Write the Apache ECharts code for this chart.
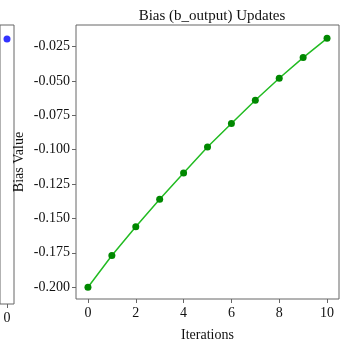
<!DOCTYPE html>
<html>
<head>
<meta charset="utf-8">
<script src="https://cdn.jsdelivr.net/npm/echarts@6/dist/echarts.min.js"></script>
<style>
    html, body {margin: 0; padding: 0; background: #fff;}
    #chart {width: 341px; height: 347px;}
</style>
</head>
<body>
<div id="chart"></div>
<script>
// iterations and bias values
var iterations = [0, 1, 2, 3, 4, 5, 6, 7, 8, 9, 10];
var biasValues = [-0.200, -0.177, -0.156, -0.136, -0.117, -0.098, -0.081, -0.064, -0.048, -0.033, -0.019];
// tick labels
var xTicks = [0, 2, 4, 6, 8, 10];
var yTicks = [-0.200, -0.175, -0.150, -0.125, -0.100, -0.075, -0.050, -0.025];
// left neighbour panel, only its last point is visible
var leftCategories = ['0'];
var leftValues = [0.95];

var axisGray = '#666';
var font = 'Liberation Serif';

var chart = echarts.init(document.getElementById('chart'));

var option = {
    animation: false,
    title: {
        text: 'Bias (b_output) Updates',
        left: 207,
        top: 4,
        textAlign: 'center',
        textStyle: {fontFamily: font, fontSize: 15, fontWeight: 'normal', color: '#111'}
    },
    grid: [
        {left: 76, right: 2, top: 25, bottom: 43, show: true, borderColor: axisGray, borderWidth: 1, backgroundColor: 'transparent'},
        // cut-off panel on the left
        {left: -10, right: 327, top: 25, bottom: 43, show: true, borderColor: axisGray, borderWidth: 1, backgroundColor: 'transparent'}
    ],
    xAxis: [
        {
            gridIndex: 0, type: 'value', min: -0.5, max: 10.5,
            axisLine: {show: false, onZero: false},
            axisTick: {show: true, length: 4, lineStyle: {color: axisGray}, customValues: xTicks},
            axisLabel: {margin: 7, fontFamily: font, fontSize: 14, color: '#111', customValues: xTicks},
            splitLine: {show: false},
            name: 'Iterations', nameLocation: 'middle', nameGap: 29,
            nameTextStyle: {fontFamily: font, fontSize: 14, color: '#111'}
        },
        {
            gridIndex: 1, type: 'category', data: leftCategories,
            axisLine: {show: false, onZero: false},
            axisTick: {show: true, alignWithLabel: true, length: 4, lineStyle: {color: axisGray}},
            axisLabel: {margin: 7, fontFamily: font, fontSize: 14, color: '#111'}
        }
    ],
    yAxis: [
        {
            gridIndex: 0, type: 'value', min: -0.2086, max: -0.0093,
            axisLine: {show: false, onZero: false},
            axisTick: {show: true, length: 4, lineStyle: {color: axisGray}, customValues: yTicks},
            axisLabel: {margin: 6, fontFamily: font, fontSize: 14, color: '#111', customValues: yTicks,
                formatter: function (v) { return v.toFixed(3); }},
            splitLine: {show: false},
            name: 'Bias Value', nameLocation: 'middle', nameGap: 50, nameMoveOverlap: false,
            nameTextStyle: {fontFamily: font, fontSize: 14, color: '#111'}
        },
        {gridIndex: 1, type: 'value', min: 0, max: 1, show: false}
    ],
    series: [
        {
            type: 'line',
            xAxisIndex: 0, yAxisIndex: 0,
            data: iterations.map(function (x, i) { return [x, biasValues[i]]; }),
            lineStyle: {color: '#22bb22', width: 1.5},
            itemStyle: {color: '#008800'},
            symbol: 'circle', symbolSize: 7
        },
        {
            type: 'scatter',
            xAxisIndex: 1, yAxisIndex: 1,
            data: leftValues.map(function (v, i) { return [leftCategories[i], v]; }),
            itemStyle: {color: '#0000ff'},
            symbolSize: 7
        }
    ]
};

chart.setOption(option);
</script>
</body>
</html>
